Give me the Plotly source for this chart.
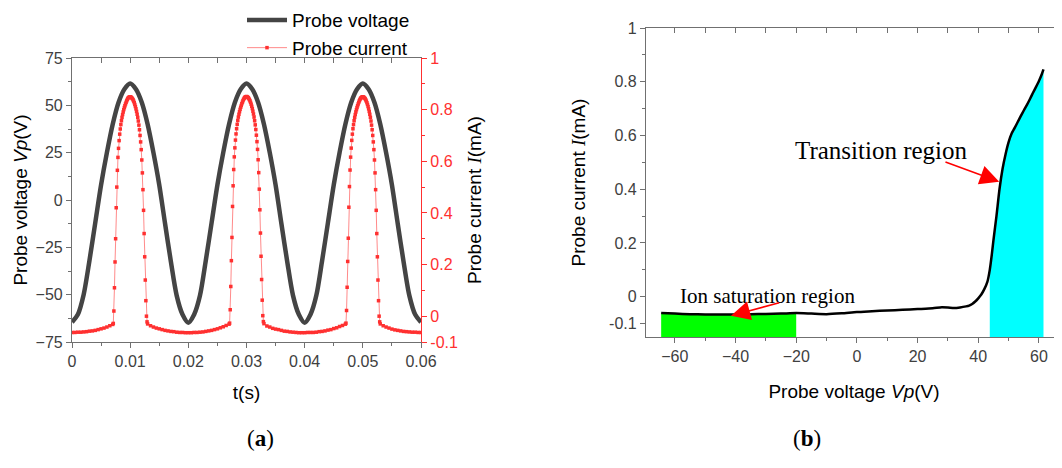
import numpy as np
import plotly.graph_objects as go

# ---- panel (a): probe voltage and current vs time ----
volt_t = np.linspace(0, 0.06, 61)
volt_v = [
    -64.5, -60.5, -50.0, -32.0, -12.0, 8.0, 25.0, 40.0, 51.5, 58.5,
    61.5, 58.5, 51.5, 40.0, 25.0, 8.0, -12.5, -32.5, -50.5, -60.5,
    -64.8, -60.5, -50.5, -32.0, -12.0, 8.0, 25.0, 40.0, 51.5, 58.5,
    61.5, 58.5, 51.5, 40.0, 25.0, 8.0, -12.5, -32.5, -50.5, -60.5,
    -64.8, -60.5, -50.5, -32.0, -12.0, 8.0, 25.0, 40.0, 51.5, 58.5,
    61.5, 58.5, 51.5, 40.0, 25.0, 8.0, -12.5, -32.5, -50.5, -60.5,
    -64.5,
]

# sample times: coarse between pulses, fine inside pulses
cur_t = np.concatenate([
    np.linspace(0.0, 0.0065, 14),
    np.linspace(0.0070, 0.0130, 61),
    np.linspace(0.0135, 0.0265, 27),
    np.linspace(0.0270, 0.0330, 61),
    np.linspace(0.0335, 0.0465, 27),
    np.linspace(0.0470, 0.0530, 61),
    np.linspace(0.0535, 0.0600, 14),
])
base_0 = [-0.063, -0.063, -0.062, -0.062, -0.061, -0.060, -0.058, -0.057, -0.055, -0.052,
          -0.049, -0.046, -0.042, -0.037]
pulse_1 = [-0.032, -0.028, 0.020, 0.110, 0.210, 0.300, 0.420, 0.500, 0.565, 0.615,
           0.650, 0.680, 0.705, 0.725, 0.742, 0.757, 0.770, 0.781, 0.791, 0.800,
           0.808, 0.815, 0.822, 0.828, 0.834, 0.839, 0.843, 0.846, 0.848, 0.849,
           0.850,
           0.849, 0.847, 0.845, 0.842, 0.838, 0.833, 0.827, 0.820, 0.812, 0.803,
           0.793, 0.782, 0.770, 0.756, 0.740, 0.722, 0.700, 0.675, 0.645, 0.605,
           0.555, 0.490, 0.410, 0.320, 0.230, 0.140, 0.060, 0.000, -0.022, -0.030]
base_1 = [-0.037, -0.042, -0.046, -0.049, -0.052, -0.055, -0.057, -0.059, -0.060, -0.062,
          -0.063, -0.063, -0.064, -0.064, -0.064, -0.063, -0.063, -0.062, -0.061, -0.059,
          -0.057, -0.055, -0.052, -0.049, -0.045, -0.041, -0.036]
pulse_2 = [-0.031, -0.027, 0.025, 0.115, 0.215, 0.305, 0.425, 0.505, 0.568, 0.617,
           0.652, 0.682, 0.706, 0.726, 0.743, 0.758, 0.771, 0.782, 0.792, 0.801,
           0.809, 0.816, 0.823, 0.829, 0.835, 0.840, 0.844, 0.847, 0.849, 0.850,
           0.851,
           0.850, 0.848, 0.846, 0.843, 0.839, 0.834, 0.828, 0.821, 0.813, 0.804,
           0.794, 0.783, 0.771, 0.757, 0.741, 0.723, 0.701, 0.676, 0.646, 0.606,
           0.556, 0.492, 0.412, 0.322, 0.232, 0.142, 0.062, 0.002, -0.021, -0.029]
base_2 = [-0.038, -0.042, -0.047, -0.050, -0.052, -0.055, -0.058, -0.059, -0.061, -0.062,
          -0.063, -0.064, -0.064, -0.064, -0.063, -0.063, -0.063, -0.062, -0.060, -0.059,
          -0.057, -0.054, -0.052, -0.048, -0.045, -0.040, -0.036]
pulse_3 = [-0.031, -0.027, 0.022, 0.112, 0.212, 0.302, 0.422, 0.502, 0.566, 0.616,
           0.651, 0.681, 0.705, 0.726, 0.742, 0.757, 0.770, 0.781, 0.791, 0.800,
           0.808, 0.815, 0.822, 0.828, 0.834, 0.839, 0.843, 0.846, 0.848, 0.849,
           0.850,
           0.849, 0.847, 0.845, 0.842, 0.838, 0.833, 0.827, 0.820, 0.812, 0.803,
           0.793, 0.782, 0.770, 0.756, 0.740, 0.722, 0.700, 0.675, 0.645, 0.605,
           0.555, 0.490, 0.410, 0.320, 0.230, 0.140, 0.060, 0.000, -0.022, -0.030]
base_3 = [-0.037, -0.042, -0.046, -0.050, -0.053, -0.055, -0.057, -0.059, -0.060, -0.061,
          -0.062, -0.062, -0.063, -0.063]
cur_i = base_0 + pulse_1 + base_1 + pulse_2 + base_2 + pulse_3 + base_3

# ---- panel (b): I-V characteristic ----
iv_v = np.array([-64.5, -60, -55, -50, -45, -40, -35, -30, -25, -20,
                 -15, -10, -5, 0, 5, 10, 15, 20, 25, 28,
                 30, 32, 34, 36, 37, 38, 39, 40, 41, 42,
                 43, 43.8, 44.5, 45, 46, 47, 48, 49, 50, 51,
                 52, 53, 54, 55, 56, 57, 58, 59, 60, 61, 61.5])
iv_i = np.array([-0.061, -0.063, -0.065, -0.066, -0.066, -0.066, -0.065, -0.064, -0.063, -0.061,
                 -0.063, -0.065, -0.062, -0.057, -0.054, -0.051, -0.049, -0.046, -0.043, -0.039,
                 -0.040, -0.042, -0.040, -0.036, -0.033, -0.027, -0.018, -0.006, 0.008, 0.028,
                 0.055, 0.100, 0.160, 0.210, 0.300, 0.400, 0.475, 0.530, 0.575, 0.607,
                 0.628, 0.650, 0.672, 0.693, 0.713, 0.735, 0.758, 0.780, 0.803, 0.830, 0.846])
sat_region = (-64.5, -20)
trans_region = (43.8, 61.5)

ticks_a_left = [-75, -50, -25, 0, 25, 50, 75]
ticks_a_right = [-0.1, 0, 0.2, 0.4, 0.6, 0.8, 1]
ticks_b_y = [-0.1, 0, 0.2, 0.4, 0.6, 0.8, 1]

RED = "#ff3030"
GREY = "#707070"
SANS = "Liberation Sans"
SERIF = "Liberation Serif"
b_ymin = -0.15

# the page puts the plot 8px in from the top-left corner
W, H = 1054, 460


def px_x(x):
    return (x - 8) / W


def px_y(y):
    return (468 - y) / H


def region_poly(lo, hi):
    m = (iv_v >= lo) & (iv_v <= hi)
    xs = [lo] + list(iv_v[m]) + [hi]
    ys = [b_ymin] + list(iv_i[m]) + [b_ymin]
    return xs + [lo], ys + [b_ymin]


fig = go.Figure()

fig.add_trace(go.Scatter(
    x=volt_t, y=volt_v, mode="lines", name="Probe voltage",
    line=dict(color="#444444", width=4.5, shape="spline", smoothing=0.8),
    xaxis="x", yaxis="y"))
fig.add_trace(go.Scatter(
    x=cur_t, y=cur_i, mode="lines+markers", name="Probe current",
    line=dict(color="rgba(255,60,60,0.6)", width=1),
    marker=dict(symbol="square", size=3.5, color=RED),
    xaxis="x", yaxis="y2"))
# empty helpers so the inward top axes get drawn
fig.add_trace(go.Scatter(x=[], y=[], xaxis="x2", yaxis="y", showlegend=False))
fig.add_trace(go.Scatter(x=[], y=[], xaxis="x4", yaxis="y3", showlegend=False))

gx, gy = region_poly(*sat_region)
fig.add_trace(go.Scatter(x=gx, y=gy, fill="toself", fillcolor="#00ff00", mode="none",
                         showlegend=False, xaxis="x3", yaxis="y3"))
cx, cy = region_poly(*trans_region)
fig.add_trace(go.Scatter(x=cx, y=cy, fill="toself", fillcolor="#00ffff", mode="none",
                         showlegend=False, xaxis="x3", yaxis="y3"))
fig.add_trace(go.Scatter(x=iv_v, y=iv_i, mode="lines", showlegend=False,
                         line=dict(color="black", width=2.5, shape="spline", smoothing=0.6),
                         xaxis="x3", yaxis="y3"))

tickfont = dict(family=SANS, size=16, color="#404040")
titlefont = dict(family=SANS, size=19, color="black")
xa_dom = [px_x(72), px_x(421)]
ya_dom = [px_y(342), px_y(58)]
xb_dom = [px_x(646), 1.0]
yb_dom = [px_y(337), px_y(28)]

common = dict(showgrid=False, zeroline=False, showline=True, linewidth=1.2, automargin=False)
TL = 5

fig.update_layout(
    width=W, height=H, margin=dict(l=0, r=0, t=0, b=0, pad=0, autoexpand=False),
    plot_bgcolor="white", paper_bgcolor="white",
    font=dict(family=SANS),
    showlegend=True,
    legend=dict(x=px_x(242), y=1.015, xanchor="left", yanchor="top",
                bgcolor="rgba(0,0,0,0)", font=dict(family=SANS, size=19, color="black"),
                itemwidth=40, tracegroupgap=0),
    xaxis=dict(domain=xa_dom, anchor="y", range=[0, 0.06], tickvals=[0, 0.01, 0.02, 0.03, 0.04, 0.05, 0.06],
               ticktext=["0", "0.01", "0.02", "0.03", "0.04", "0.05", "0.06"],
               ticks="outside", ticklen=TL, tickcolor=GREY, linecolor=GREY, tickfont=tickfont,
               minor=dict(dtick=0.005, tick0=0, ticks="outside", ticklen=3, tickcolor=GREY),
               title=dict(text="t(s)", font=titlefont, standoff=16), **common),
    xaxis2=dict(overlaying="x", anchor="y", side="top", range=[0, 0.06], dtick=0.005, tick0=0,
                ticks="inside", ticklen=5, tickcolor=GREY, linecolor=GREY, showticklabels=False, **common),
    yaxis=dict(domain=ya_dom, anchor="x", range=[-75, 75], tickvals=ticks_a_left,
               ticks="outside", ticklen=TL, tickcolor=GREY, linecolor=GREY, tickfont=tickfont,
               minor=dict(dtick=12.5, tick0=0, ticks="outside", ticklen=3, tickcolor=GREY),
               title=dict(text="Probe voltage <i>Vp</i>(V)", font=titlefont, standoff=2), **common),
    yaxis2=dict(overlaying="y", anchor="x", side="right", range=[-0.1, 1], tickvals=ticks_a_right,
                ticktext=["-0.1", "0", "0.2", "0.4", "0.6", "0.8", "1"],
                ticks="outside", ticklen=TL, tickcolor=RED, linecolor=RED,
                tickfont=dict(family=SANS, size=16, color=RED),
                minor=dict(dtick=0.1, tick0=0, ticks="outside", ticklen=3, tickcolor=RED),
                title=dict(text="Probe current <span style='font-family:Liberation Serif'><i>I</i></span>(mA)",
                           font=titlefont, standoff=10), **common),
    xaxis3=dict(domain=xb_dom, anchor="y3", range=[-69.5, 67.6], tickvals=[-60, -40, -20, 0, 20, 40, 60],
                ticks="outside", ticklen=TL, tickcolor=GREY, linecolor=GREY, tickfont=tickfont,
                minor=dict(dtick=10, tick0=0, ticks="outside", ticklen=3, tickcolor=GREY),
                title=dict(text="Probe voltage <i>Vp</i>(V)", font=titlefont, standoff=20), **common),
    xaxis4=dict(overlaying="x3", anchor="y3", side="top", range=[-69.5, 67.6], dtick=10, tick0=0,
                ticks="inside", ticklen=5, tickcolor=GREY, linecolor=GREY, showticklabels=False, **common),
    yaxis3=dict(domain=yb_dom, anchor="x3", range=[b_ymin, 1], tickvals=ticks_b_y,
                ticktext=["-0.1", "0", "0.2", "0.4", "0.6", "0.8", "1"],
                ticks="outside", ticklen=TL, tickcolor=GREY, linecolor=GREY, tickfont=tickfont,
                minor=dict(dtick=0.1, tick0=0, ticks="outside", ticklen=3, tickcolor=GREY),
                title=dict(text="Probe current <span style='font-family:Liberation Serif'><i>I</i></span>(mA)",
                           font=titlefont, standoff=18), **common),
)

fig.add_annotation(x=8.1, y=0.544, xref="x3", yref="y3", text="Transition region",
                   showarrow=False, font=dict(family=SERIF, size=25, color="black"))
fig.add_annotation(x=46.9, y=0.428, ax=28.7, ay=0.503, xref="x3", yref="y3",
                   axref="x3", ayref="y3", text="", showarrow=True,
                   arrowhead=2, arrowsize=2.4, arrowwidth=1.6, arrowcolor="red")
fig.add_annotation(x=-29.5, y=0.004, xref="x3", yref="y3", text="Ion saturation region",
                   showarrow=False, font=dict(family=SERIF, size=21, color="black"))
fig.add_annotation(x=-41.5, y=-0.071, ax=-25.1, ay=-0.021, xref="x3", yref="y3",
                   axref="x3", ayref="y3", text="", showarrow=True,
                   arrowhead=2, arrowsize=2.4, arrowwidth=1.6, arrowcolor="red")
fig.add_annotation(x=px_x(245), y=px_y(453), xref="paper", yref="paper", text="(<b>a</b>)",
                   showarrow=False, font=dict(family=SERIF, size=23, color="black"))
fig.add_annotation(x=px_x(823), y=px_y(453), xref="paper", yref="paper", text="(<b>b</b>)",
                   showarrow=False, font=dict(family=SERIF, size=23, color="black"))

fig.write_html("out.html")
